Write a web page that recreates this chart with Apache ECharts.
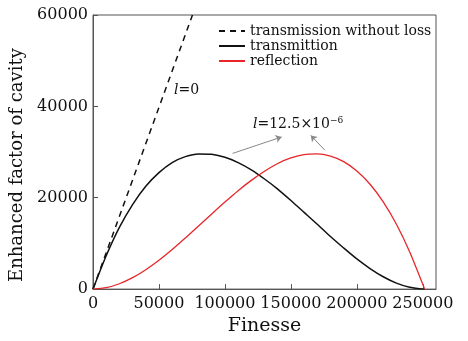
<!DOCTYPE html>
<html>
<head>
<meta charset="utf-8">
<script src="https://cdn.jsdelivr.net/npm/echarts@6/dist/echarts.min.js"></script>
<style>
  html, body { margin: 0; padding: 0; background: #fff; }
  #chart { width: 468px; height: 341px; }
</style>
</head>
<body>
<div id="chart"></div>
<script>
// finesse samples (x) and read-off values
const finesse = [0, 10000, 20000, 30000, 40000, 50000, 60000, 70000, 80000, 90000,
  100000, 110000, 120000, 130000, 140000, 150000, 160000, 170000, 180000, 190000,
  200000, 210000, 220000, 230000, 240000, 250000, 251300];
const transmittion = [0, 7300, 13500, 18500, 22500, 25500, 27700, 29000, 29600, 29500,
  28850, 27700, 26100, 24100, 21900, 19400, 16800, 14200, 11500, 9000,
  6600, 4500, 2700, 1300, 390, 10, 0];
const reflection = [0, 300, 1170, 2500, 4250, 6300, 8650, 11200, 13800, 16450,
  19050, 21550, 23800, 25800, 27500, 28700, 29450, 29600, 29100, 27900,
  25850, 22950, 19100, 14200, 8200, 1050, 0];
const losslessX = [0, 75400];
const losslessY = [0, 60000];

const xTicks = { min: 0, max: 260000, interval: 50000 };
const yTicks = { min: 0, max: 60000, interval: 20000 };

const serif = "'DejaVu Serif', 'Liberation Serif', serif";
const zip = (xs, ys) => xs.map((x, i) => [x, ys[i]]);

const chart = echarts.init(document.getElementById("chart"), null, { renderer: "canvas" });

chart.setOption({
  animation: false,
  backgroundColor: "#fff",
  grid: {
    left: 93, right: 32, top: 15, bottom: 49,
    show: true, borderColor: "#555", borderWidth: 1
  },
  legend: {
    orient: "vertical",
    left: 213, top: 19,
    itemWidth: 26, itemHeight: 10, itemGap: 1,
    itemStyle: { opacity: 0 },
    textStyle: { fontFamily: serif, fontSize: 14, color: "#111" },
    data: ["transmission without loss", "transmittion", "reflection"]
  },
  xAxis: {
    type: "value",
    min: xTicks.min, max: xTicks.max, interval: xTicks.interval,
    name: "Finesse",
    nameLocation: "middle",
    nameGap: 17,
    nameTextStyle: { fontFamily: serif, fontSize: 19, color: "#111" },
    axisLine: { lineStyle: { color: "#555" } },
    axisTick: { inside: true, length: 5, lineStyle: { color: "#555" } },
    axisLabel: {
      fontFamily: serif, fontSize: 16, color: "#111", margin: 7, showMaxLabel: false,
      formatter: (v) => String(v)
    },
    splitLine: { show: false }
  },
  yAxis: {
    type: "value",
    min: yTicks.min, max: yTicks.max, interval: yTicks.interval,
    name: "Enhanced factor of cavity",
    nameLocation: "middle",
    nameGap: 61,
    nameTextStyle: { fontFamily: serif, fontSize: 18, color: "#111", padding: [0, 26, 0, 0] },
    axisLine: { lineStyle: { color: "#555" } },
    axisTick: { inside: true, length: 5, lineStyle: { color: "#555" } },
    axisLabel: {
      fontFamily: serif, fontSize: 16, color: "#111", margin: 5,
      formatter: (v) => String(v)
    },
    splitLine: { show: false }
  },
  series: [
    {
      name: "transmission without loss",
      type: "line",
      data: zip(losslessX, losslessY),
      symbol: "none",
      lineStyle: { color: "#111", width: 1.5, type: [6, 5] },
      itemStyle: { color: "#111" }
    },
    {
      name: "transmittion",
      type: "line",
      data: zip(finesse, transmittion),
      symbol: "none",
      smooth: 0.25,
      lineStyle: { color: "#111", width: 1.5 },
      itemStyle: { color: "#111" },
      markLine: {
        silent: true,
        symbol: ["none", "arrow"],
        symbolSize: 6,
        lineStyle: { color: "#888", width: 1, type: "solid" },
        label: { show: false },
        data: [
          [{ coord: [105800, 29700] }, { coord: [143000, 33300] }],
          [{ coord: [175800, 30400] }, { coord: [165100, 33650] }]
        ]
      }
    },
    {
      name: "reflection",
      type: "line",
      data: zip(finesse, reflection),
      symbol: "none",
      smooth: 0.25,
      lineStyle: { color: "#e8262a", width: 1.3 },
      itemStyle: { color: "#e8262a" }
    }
  ],
  graphic: [
    {
      type: "text",
      left: 174, top: 83,
      style: {
        rich: {
          i: { fontFamily: serif, fontStyle: "italic", fontSize: 14, fill: "#111" },
          n: { fontFamily: serif, fontSize: 14, fill: "#111" }
        },
        text: "{i|l}{n|=0}"
      }
    },
    {
      type: "text",
      left: 253, top: 116,
      style: {
        rich: {
          i: { fontFamily: serif, fontStyle: "italic", fontSize: 14, fill: "#111" },
          n: { fontFamily: serif, fontSize: 14, fill: "#111" },
          s: { fontFamily: serif, fontSize: 9, fill: "#111", verticalAlign: "top", padding: [0, 0, 7, 0] }
        },
        text: "{i|l}{n|=12.5×10}{s|−6}"
      }
    }
  ]
});
</script>
</body>
</html>
